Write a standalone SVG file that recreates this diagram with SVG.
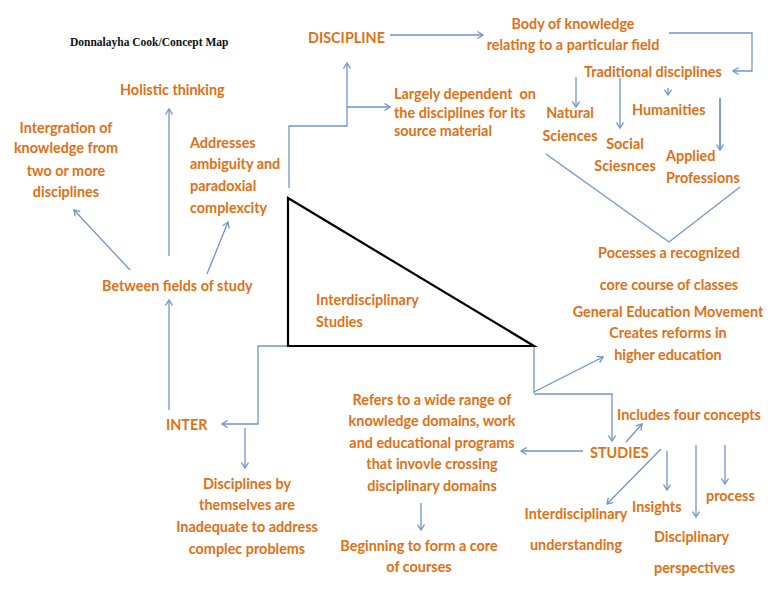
<svg xmlns="http://www.w3.org/2000/svg" width="768" height="594" viewBox="0 0 768 594">
<defs>
<marker id="ah" markerWidth="8" markerHeight="8" refX="6" refY="4" orient="auto" markerUnits="userSpaceOnUse">
<path d="M0.5,0.5 L6,4 L0.5,7.5" fill="none" stroke="#6F95CB" stroke-width="1.3"/>
</marker>
<style>
.t{font-family:Lato,"Open Sans","Liberation Sans",sans-serif;font-weight:bold;font-size:14.4px;fill:#E26F14}
.m{text-anchor:middle}
.c{fill:none;stroke:#6F95CB;stroke-width:1.3}
.a{marker-end:url(#ah)}
.title{font-family:"Liberation Serif",serif;font-weight:bold;font-size:11.5px;fill:#111}
</style>
</defs>
<rect width="768" height="594" fill="#fff"/>
<text class="title" x="70" y="46">Donnalayha Cook/Concept Map</text>

<g id="connectors">
<polyline class="c a" points="289,188 289,126 347,126 347,63"/>
<line class="c a" x1="347" y1="107" x2="390" y2="107"/>
<line class="c a" x1="390" y1="35" x2="483" y2="35"/>
<polyline class="c a" points="669,33 752,33 752,71 733,71"/>
<line class="c a" x1="576" y1="77" x2="576" y2="107"/>
<line class="c a" x1="620" y1="78" x2="620" y2="128"/>
<line class="c a" x1="668" y1="88" x2="668" y2="95"/>
<line class="c a" x1="720" y1="98" x2="720" y2="150" style="stroke-width:1.8"/>
<polyline class="c" points="546,154 669,242 740,187"/>
<polyline class="c a" points="288,346 258,346 258,424 222,424"/>
<line class="c a" x1="245" y1="428" x2="245" y2="468"/>
<line class="c a" x1="169" y1="410" x2="169" y2="300"/>
<line class="c a" x1="169" y1="256" x2="169" y2="109"/>
<line class="c a" x1="130" y1="270" x2="74" y2="210"/>
<line class="c a" x1="207" y1="274" x2="228" y2="222"/>
<polyline class="c" points="534,346 534,393"/>
<line class="c a" x1="534" y1="392" x2="603" y2="357"/>
<polyline class="c a" points="534,394 612,394 612,441"/>
<line class="c a" x1="626" y1="442" x2="642" y2="424"/>
<line class="c a" x1="583" y1="451" x2="521" y2="451"/>
<line class="c a" x1="661" y1="449" x2="607" y2="504"/>
<line class="c a" x1="667" y1="451" x2="667" y2="490"/>
<line class="c a" x1="696" y1="445" x2="696" y2="517"/>
<line class="c a" x1="725" y1="445" x2="725" y2="484"/>
<line class="c a" x1="421" y1="503" x2="421" y2="530"/>
</g>

<g id="triangle">
<polygon points="288,198 288,346 534,346" fill="none" stroke="#000" stroke-width="2.2"/>
<text class="t" x="316" y="305">Interdisciplinary</text>
<text class="t" x="316" y="327">Studies</text>
</g>

<g id="discipline"><text class="t" x="308" y="43">DISCIPLINE</text></g>
<g id="body"><text class="t m" x="573" y="29">Body of knowledge</text><text class="t m" x="573" y="50">relating to a particular field</text></g>
<g id="traditional"><text class="t" x="584" y="77">Traditional disciplines</text></g>
<g id="largely"><text class="t" x="394" y="99" xml:space="preserve">Largely dependent  on</text><text class="t" x="394" y="118">the disciplines for its</text><text class="t" x="394" y="136">source material</text></g>
<g id="natural"><text class="t m" x="570" y="118">Natural</text><text class="t m" x="570" y="141">Sciences</text></g>
<g id="humanities"><text class="t" x="632" y="115">Humanities</text></g>
<g id="social"><text class="t m" x="625" y="149">Social</text><text class="t m" x="625" y="171">Sciesnces</text></g>
<g id="applied"><text class="t" x="666" y="161">Applied</text><text class="t" x="666" y="183">Professions</text></g>
<g id="holistic"><text class="t" x="120" y="95">Holistic thinking</text></g>
<g id="integration"><text class="t m" x="66" y="133">Intergration of</text><text class="t m" x="66" y="153">knowledge from</text><text class="t m" x="66" y="176">two or more</text><text class="t m" x="66" y="197">disciplines</text></g>
<g id="addresses"><text class="t" x="190" y="148">Addresses</text><text class="t" x="190" y="169">ambiguity and</text><text class="t" x="190" y="191">paradoxial</text><text class="t" x="190" y="213">complexcity</text></g>
<g id="between"><text class="t" x="102" y="291">Between fields of study</text></g>
<g id="pocesses"><text class="t m" x="669" y="258">Pocesses a recognized</text><text class="t m" x="669" y="290">core course of classes</text></g>
<g id="general"><text class="t m" x="668" y="317">General Education Movement</text><text class="t m" x="668" y="338">Creates reforms in</text><text class="t m" x="668" y="360">higher education</text></g>
<g id="inter"><text class="t" x="166" y="430">INTER</text></g>
<g id="inadequate"><text class="t m" x="247" y="489">Disciplines by</text><text class="t m" x="247" y="510">themselves are</text><text class="t m" x="247" y="532">Inadequate to address</text><text class="t m" x="247" y="554">complec problems</text></g>
<g id="refers"><text class="t m" x="432" y="405">Refers to a wide range of</text><text class="t m" x="432" y="426">knowledge domains, work</text><text class="t m" x="432" y="448">and educational programs</text><text class="t m" x="432" y="469">that invovle crossing</text><text class="t m" x="432" y="491">disciplinary domains</text></g>
<g id="beginning"><text class="t m" x="419" y="551">Beginning to form a core</text><text class="t m" x="419" y="572">of courses</text></g>
<g id="includes"><text class="t" x="617" y="420">Includes four concepts</text></g>
<g id="studies"><text class="t" x="590" y="458">STUDIES</text></g>
<g id="understanding"><text class="t m" x="576" y="519">Interdisciplinary</text><text class="t m" x="576" y="550">understanding</text></g>
<g id="insights"><text class="t" x="632" y="512">Insights</text></g>
<g id="process"><text class="t" x="706" y="501">process</text></g>
<g id="perspectives"><text class="t" x="654" y="542">Disciplinary</text><text class="t" x="654" y="573">perspectives</text></g>
</svg>
